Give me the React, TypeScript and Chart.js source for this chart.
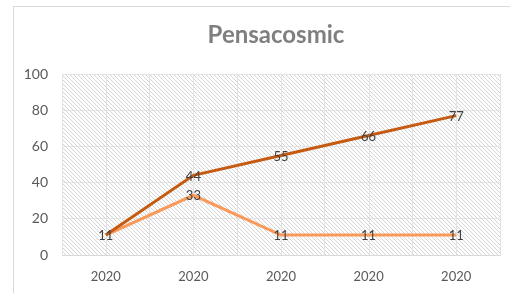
import React, { useEffect, useRef } from "react";
import { Chart, registerables } from "chart.js";

Chart.register(...registerables);

const title = "Pensacosmic";
const categories = ["2020", "2020", "2020", "2020", "2020"];
const seriesDark = [11, 44, 55, 66, 77];
const seriesLight = [11, 33, 11, 11, 11];
const yTicks = [0, 20, 40, 60, 80, 100];

const FONT = "Lato, 'Open Sans', sans-serif";

function makeHatch(ctx: CanvasRenderingContext2D) {
  const c = document.createElement("canvas");
  c.width = 4;
  c.height = 4;
  const g = c.getContext("2d")!;
  g.fillStyle = "#ffffff";
  g.fillRect(0, 0, 4, 4);
  g.strokeStyle = "#d4d4d4";
  g.lineWidth = 1;
  g.beginPath();
  g.moveTo(-1, -1);
  g.lineTo(5, 5);
  g.moveTo(-1, 3);
  g.lineTo(1, 5);
  g.moveTo(3, -1);
  g.lineTo(5, 1);
  g.stroke();
  return ctx.createPattern(c, "repeat")!;
}

const bgPlugin = {
  id: "bgHatch",
  beforeDraw(chart: any) {
    const { ctx, chartArea: a } = chart;
    ctx.save();
    ctx.fillStyle = makeHatch(ctx);
    ctx.fillRect(a.left, a.top, a.right - a.left, a.bottom - a.top);
    // title
    ctx.fillStyle = "#7f7f7f";
    ctx.font = `bold 24px ${FONT}`;
    ctx.textAlign = "center";
    ctx.textBaseline = "middle";
    ctx.fillText(title, chart.width / 2, 28);
    ctx.restore();
  },
  afterDatasetsDraw(chart: any) {
    const { ctx } = chart;
    ctx.save();
    ctx.font = `13px ${FONT}`;
    ctx.fillStyle = "#404040";
    ctx.textAlign = "center";
    ctx.textBaseline = "middle";
    const drawn = new Set<string>();
    chart.data.datasets.forEach((ds: any, i: number) => {
      const meta = chart.getDatasetMeta(i);
      meta.data.forEach((pt: any, j: number) => {
        const key = `${Math.round(pt.x)}_${Math.round(pt.y)}`;
        if (drawn.has(key)) return;
        drawn.add(key);
        ctx.fillText(String(ds.data[j]), pt.x, pt.y + 1);
      });
    });
    ctx.restore();
  },
  beforeDatasetsDraw(chart: any) {
    // extra vertical grid lines at category centres
    const { ctx, chartArea: a } = chart;
    const xs = chart.scales.x;
    ctx.save();
    ctx.strokeStyle = "#e3e3e3";
    ctx.lineWidth = 1;
    categories.forEach((_, i) => {
      const x = Math.round(xs.getPixelForValue(i)) + 0.5;
      ctx.beginPath();
      ctx.moveTo(x, a.top);
      ctx.lineTo(x, a.bottom);
      ctx.stroke();
    });
    ctx.restore();
  },
};

function ChartView() {
  const ref = useRef<HTMLCanvasElement>(null);
  useEffect(() => {
    const chart = new Chart(ref.current!, {
      type: "line",
      data: {
        labels: categories,
        datasets: [
          {
            data: seriesDark,
            borderColor: "#C55A11",
            borderWidth: 3,
            pointRadius: 0,
            tension: 0,
          },
          {
            data: seriesLight,
            borderColor: "#FA9A5A",
            borderWidth: 3,
            pointRadius: 0,
            tension: 0,
          },
        ],
      },
      options: {
        responsive: false,
        animation: false,
        layout: { padding: { top: 67, right: 38, left: 0, bottom: 0 } },
        plugins: {
          legend: { display: false },
          title: { display: false },
          tooltip: { enabled: false },
        },
        scales: {
          x: {
            offset: true,
            grid: { offset: true, color: "#e3e3e3", drawTicks: false },
            border: { color: "#d9d9d9" },
            ticks: {
              color: "#595959",
              font: { family: FONT, size: 13 },
              padding: 14,
              maxRotation: 0,
              autoSkip: false,
            },
            afterFit(s: any) {
              s.height = 38;
            },
          },
          y: {
            min: 0,
            max: 100,
            afterBuildTicks(s: any) {
              s.ticks = yTicks.map((v) => ({ value: v }));
            },
            grid: { color: "#e3e3e3", drawTicks: false },
            border: { display: false },
            ticks: {
              color: "#595959",
              font: { family: FONT, size: 14 },
              padding: 14,
            },
            afterFit(s: any) {
              s.width = 48;
            },
          },
        },
      },
      plugins: [bgPlugin],
    });
    return () => chart.destroy();
  }, []);
  return <canvas ref={ref} width={524} height={286} style={{ display: "block" }} />;
}

export default function App() {
  return (
    <div
      style={{
        position: "fixed",
        left: 0,
        top: 0,
        width: 510,
        height: 293,
        overflow: "hidden",
        background: "#ffffff",
      }}
    >
      <div
        style={{
          position: "absolute",
          left: 13,
          top: 6,
          width: 524,
          height: 300,
          border: "1px solid #d9d9d9",
        }}
      >
        <ChartView />
      </div>
    </div>
  );
}
